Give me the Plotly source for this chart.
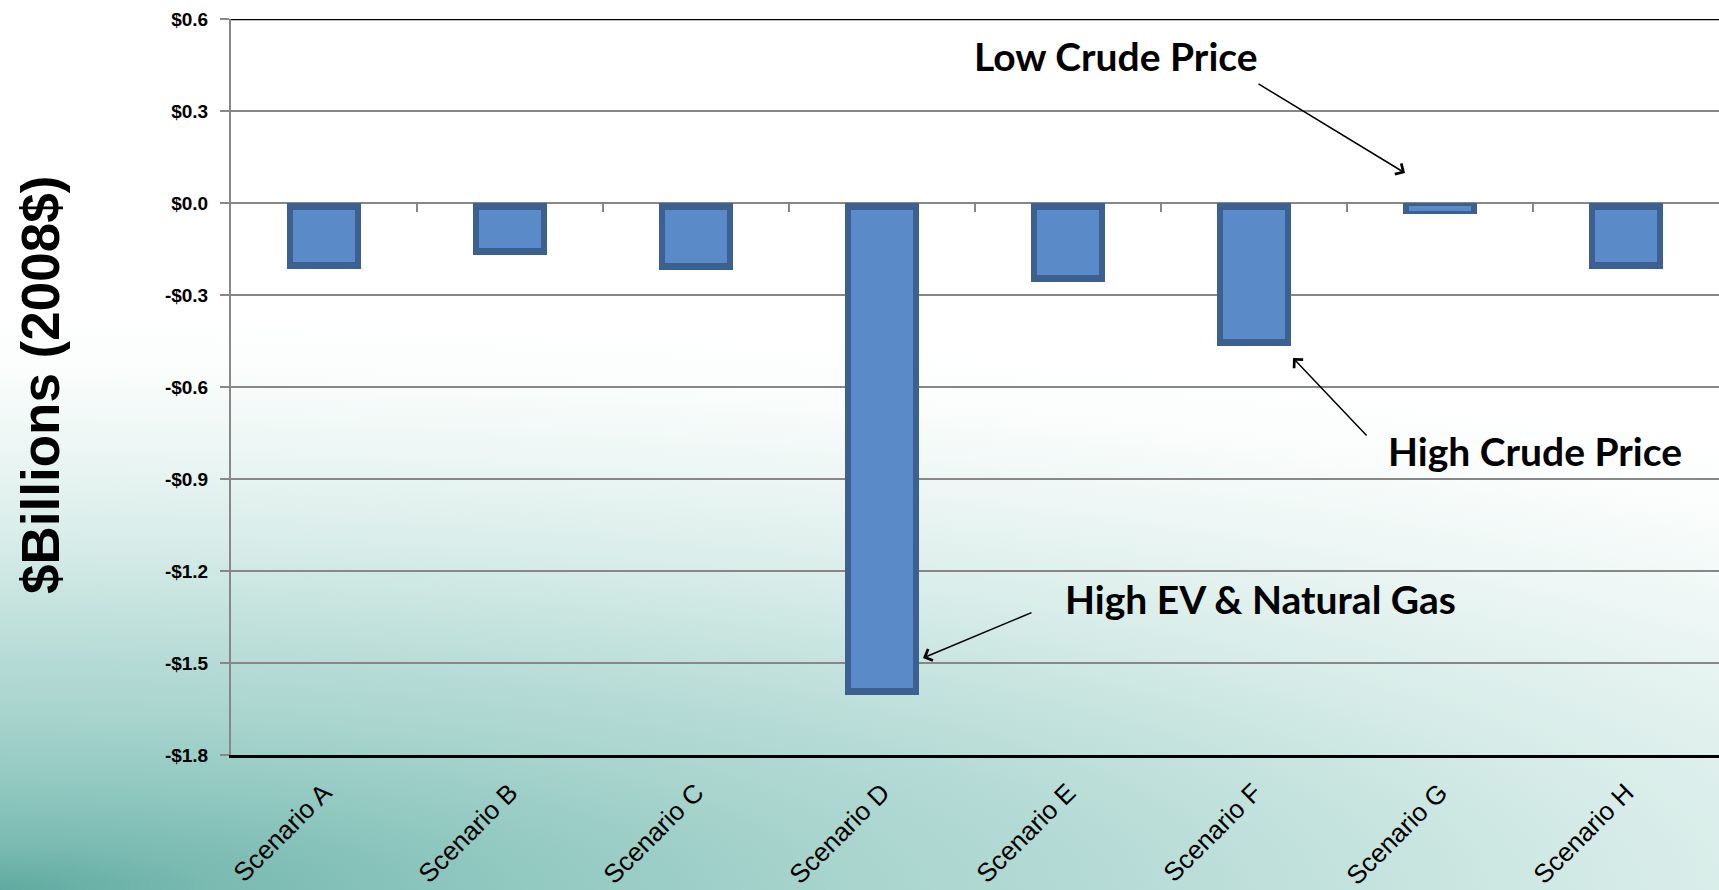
import base64
import plotly.graph_objects as go

# ---- data ----
categories = ["Scenario A", "Scenario B", "Scenario C", "Scenario D",
              "Scenario E", "Scenario F", "Scenario G", "Scenario H"]
values = [-0.215, -0.171, -0.217, -1.605, -0.256, -0.467, -0.036, -0.215]
y_tick_vals = [0.6, 0.3, 0.0, -0.3, -0.6, -0.9, -1.2, -1.5, -1.8]
y_tick_text = ["$0.6", "$0.3", "$0.0", "-$0.3", "-$0.6", "-$0.9", "-$1.2", "-$1.5", "-$1.8"]
y_title = "$Billions (2008$)"
notes = ["Low Crude Price", "High Crude Price", "High EV & Natural Gas"]

# ---- layout geometry (pixels) ----
W, H = 1719, 890
ML, MR, MT, MB = 231, 0, 19, 135
PW, PH = W - ML - MR, H - MT - MB


def px(x):
    return (x - ML) / PW


def py(y):
    return (H - MB - y) / PH


# background gradient (slide style): elliptical teal glow from bottom-left corner
svg = f"""<svg xmlns='http://www.w3.org/2000/svg' width='{W}' height='{H}' viewBox='0 0 {W} {H}' preserveAspectRatio='none'>
<defs><radialGradient id='g' gradientUnits='userSpaceOnUse' cx='0' cy='{H}' r='580'
 gradientTransform='translate(0 {H}) scale(4.8 1) translate(0 -{H})'>
<stop offset='0' stop-color='#5faaa0'/>
<stop offset='0.075' stop-color='#79bab1'/>
<stop offset='0.18' stop-color='#90c8c0'/>
<stop offset='0.31' stop-color='#a9d5ce'/>
<stop offset='0.40' stop-color='#b6dbd6'/>
<stop offset='0.48' stop-color='#c3e2dd'/>
<stop offset='0.60' stop-color='#d7ece8'/>
<stop offset='0.76' stop-color='#ecf6f4'/>
<stop offset='0.90' stop-color='#fafdfc'/>
<stop offset='1' stop-color='#ffffff'/>
</radialGradient></defs>
<rect x='0' y='0' width='{W}' height='{H}' fill='url(#g)'/>
</svg>"""
bg_src = "data:image/svg+xml;base64," + base64.b64encode(svg.encode()).decode()

inset = [min(0.0228, abs(v) / 4) for v in values]

fig = go.Figure()
fig.add_trace(go.Bar(x=categories, y=values, width=0.40,
                     marker=dict(color="#3c6190", line=dict(width=0)),
                     showlegend=False))
fig.add_trace(go.Bar(x=categories, y=[v + 2 * i for v, i in zip(values, inset)],
                     base=[-i for i in inset], width=0.335,
                     marker=dict(color="#5a8ac7", line=dict(width=0)),
                     showlegend=False))

fig.update_layout(
    width=W, height=H,
    margin=dict(l=ML, r=MR, t=MT, b=MB, pad=0, autoexpand=False),
    paper_bgcolor="white",
    plot_bgcolor="rgba(0,0,0,0)",
    barmode="overlay",
    bargap=0,
    images=[dict(source=bg_src, xref="paper", yref="paper",
                 x=px(0), y=py(0), sizex=W / PW, sizey=H / PH,
                 xanchor="left", yanchor="top", sizing="stretch", layer="below")],
    xaxis=dict(
        type="category", range=[-0.5, 7.5], automargin=False,
        showgrid=False, zeroline=False,
        showline=True, linecolor="black", linewidth=3,
        ticks="", tickangle=-45,
        tickfont=dict(family="Liberation Sans, Arial", size=26, color="black"),
        ticklabelstandoff=9,
    ),
    xaxis2=dict(
        overlaying="x", anchor="free", position=py(203), range=[-0.5, 7.5],
        automargin=False,
        showgrid=False, zeroline=False, showline=False, showticklabels=False,
        ticks="outside", ticklen=8, tickwidth=2, tickcolor="#878787",
        tickvals=[0.5, 1.5, 2.5, 3.5, 4.5, 5.5, 6.5],
    ),
    yaxis=dict(
        range=[-1.8, 0.6], automargin=False,
        tickvals=y_tick_vals,
        ticktext=["<b>" + t + "</b>" for t in y_tick_text],
        tickfont=dict(family="Liberation Sans Narrow, Arial Narrow, Liberation Sans", size=19, color="black"),
        showgrid=True, gridcolor="#878787", gridwidth=2,
        zeroline=False,
        showline=True, linecolor="#878787", linewidth=2,
        ticks="outside", ticklen=9, tickwidth=2, tickcolor="#878787",
        ticklabelstandoff=8,
    ),
    shapes=[dict(type="line", xref="paper", yref="y", x0=0, x1=1, y0=0.6, y1=0.6,
                 line=dict(color="black", width=2.5))],
)

# invisible helper trace on xaxis2 so its boundary ticks render on the zero line
fig.add_trace(go.Scatter(x=[0], y=[0], xaxis="x2", mode="markers",
                         marker=dict(opacity=0), showlegend=False, hoverinfo="skip"))

ann_font = dict(family="Lato, Open Sans, sans-serif", size=39, color="black", weight="bold")
fig.add_annotation(text=notes[0], xref="paper", yref="paper", x=px(1116), y=py(56),
                   xanchor="center", yanchor="middle", showarrow=False, font=ann_font)
fig.add_annotation(text=notes[1], xref="paper", yref="paper", x=px(1535), y=py(451),
                   xanchor="center", yanchor="middle", showarrow=False, font=ann_font)
fig.add_annotation(text=notes[2], xref="paper", yref="paper", x=px(1260), y=py(599),
                   xanchor="center", yanchor="middle", showarrow=False, font=ann_font)

arrow_common = dict(text="", xref="paper", yref="paper", showarrow=True,
                    arrowhead=4, arrowsize=1.6, arrowwidth=1.5, arrowcolor="black",
                    standoff=0, startstandoff=0)
fig.add_annotation(x=px(1405), y=py(173), ax=-148, ay=-90, **arrow_common)
fig.add_annotation(x=px(1293), y=py(358), ax=75, ay=79, **arrow_common)
fig.add_annotation(x=px(923), y=py(658), ax=110, ay=-46, **arrow_common)

fig.add_annotation(text="<b>" + y_title + "</b>", xref="paper", yref="paper",
                   x=px(40), y=py(385), xanchor="center", yanchor="middle",
                   textangle=-90, showarrow=False,
                   font=dict(family="Liberation Sans, Arial", size=53, color="black"))

fig.write_html("out.html")
